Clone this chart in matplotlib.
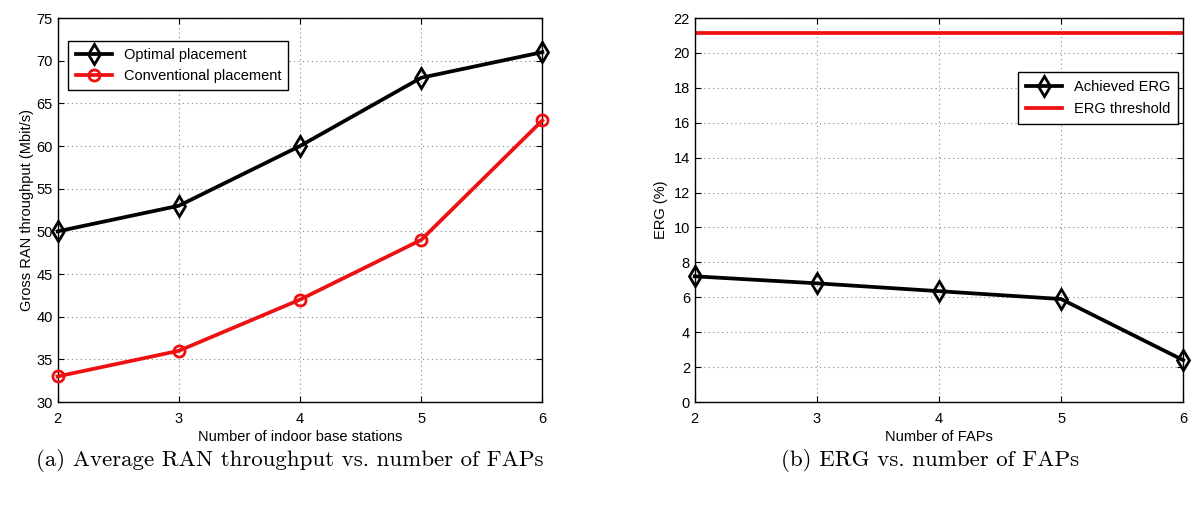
import matplotlib
matplotlib.use('Agg')
import matplotlib.pyplot as plt

n_stations = [2, 3, 4, 5, 6]
optimal = [50, 53, 60, 68, 71]
conventional = [33, 36, 42, 49, 63]

n_faps = [2, 3, 4, 5, 6]
erg_achieved = [7.2, 6.8, 6.35, 5.9, 2.4]
erg_threshold = 21.15

plt.rcParams['font.family'] = ['Liberation Sans', 'DejaVu Sans']
plt.rcParams['xtick.direction'] = 'in'
plt.rcParams['ytick.direction'] = 'in'

fig = plt.figure(figsize=(12, 5.19), dpi=100)
ax1 = fig.add_axes([0.048, 0.2254, 0.404, 0.7399])
ax2 = fig.add_axes([0.579, 0.2254, 0.407, 0.7399])

grid_style = dict(color='#888888', linestyle=(0, (1, 3)), linewidth=0.8)

# (a) throughput
ax1.plot(n_stations, optimal, color='k', lw=2.7, marker='d', ms=10,
         mfc='none', mec='k', mew=2.0, label='Optimal placement', clip_on=False, zorder=5)
ax1.plot(n_stations, conventional, color='#ee1111', lw=2.7, marker='o', ms=8,
         mfc='none', mec='#ee1111', mew=2.0, label='Conventional placement', clip_on=False, zorder=5)
ax1.set_xlim(2, 6)
ax1.set_ylim(30, 75)
ax1.set_xticks([2, 3, 4, 5, 6])
ax1.set_yticks(range(30, 80, 5))
ax1.grid(True, **grid_style)
ax1.set_xlabel('Number of indoor base stations', fontsize=10.5, labelpad=3)
ax1.set_ylabel('Gross RAN throughput (Mbit/s)', fontsize=10.5, labelpad=2)
leg1 = ax1.legend(loc='upper left', bbox_to_anchor=(0.022, 0.94), borderaxespad=0,
                  fontsize=10.5, fancybox=False, edgecolor='k', framealpha=1,
                  handlelength=2.5, borderpad=0.5, labelspacing=0.45)
leg1.get_frame().set_linewidth(1.0)

# (b) ERG
ax2.plot(n_faps, erg_achieved, color='k', lw=2.7, marker='d', ms=10,
         mfc='none', mec='k', mew=2.0, label='Achieved ERG', clip_on=False, zorder=5)
ax2.axhline(erg_threshold, color='#ee1111', lw=2.7, label='ERG threshold')
ax2.set_xlim(2, 6)
ax2.set_ylim(0, 22)
ax2.set_xticks([2, 3, 4, 5, 6])
ax2.set_yticks(range(0, 24, 2))
ax2.grid(True, **grid_style)
ax2.set_xlabel('Number of FAPs', fontsize=10.5, labelpad=3)
ax2.set_ylabel('ERG (%)', fontsize=10.5, labelpad=4)
leg2 = ax2.legend(loc='upper right', bbox_to_anchor=(0.99, 0.86), borderaxespad=0,
                  fontsize=10.5, fancybox=False, edgecolor='k', framealpha=1,
                  handlelength=2.5, borderpad=0.55, labelspacing=0.55)
leg2.get_frame().set_linewidth(1.0)

for ax in (ax1, ax2):
    ax.tick_params(labelsize=10.5, length=4, top=True, right=True)
    ax.tick_params(axis='x', pad=7)
    for s in ax.spines.values():
        s.set_linewidth(1.0)

fig.text(0.2417, 0.113, '(a) Average RAN throughput vs. number of FAPs',
         ha='center', va='center', fontsize=16.5, family='cmr10')
fig.text(0.775, 0.113, '(b) ERG vs. number of FAPs',
         ha='center', va='center', fontsize=16.5, family='cmr10')

fig.savefig('out.png', dpi=100)
